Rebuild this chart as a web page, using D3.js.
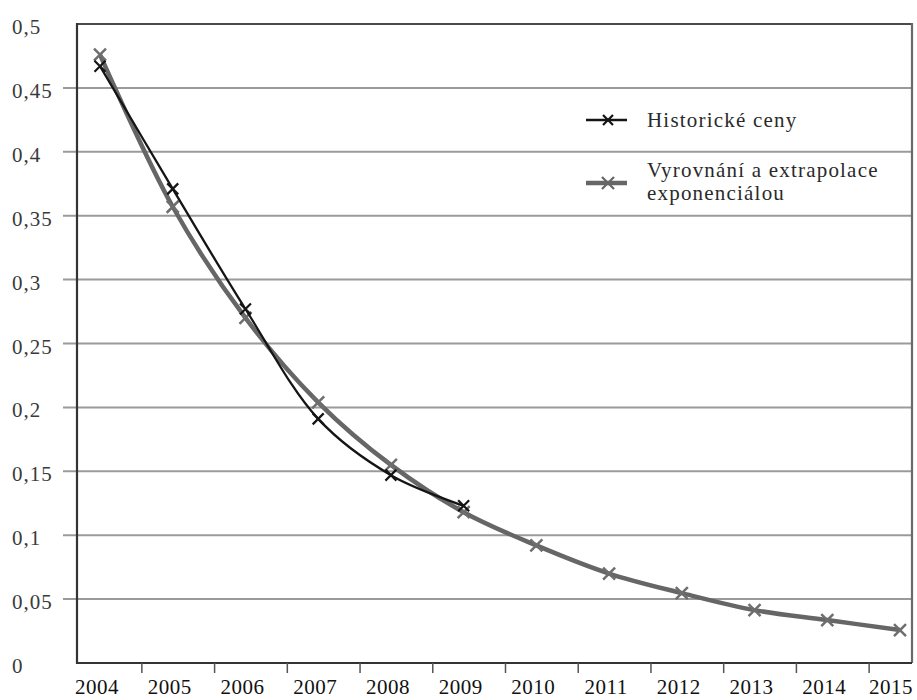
<!DOCTYPE html>
<html><head><meta charset="utf-8">
<script src="https://cdn.jsdelivr.net/npm/d3@7"></script>
<style>body{margin:0;background:#fff}svg{display:block}</style>
</head><body>
<svg id="chart" width="917" height="700"></svg>
<script>
const years = [2004,2005,2006,2007,2008,2009,2010,2011,2012,2013,2014,2015];
const historicalPrices = [0.467,0.371,0.277,0.191,0.147,0.123];
const fittedValues = [0.476,0.357,0.270,0.204,0.155,0.118,0.092,0.070,0.0547,0.0414,0.0336,0.0258];
const yTicks = [0,0.05,0.1,0.15,0.2,0.25,0.3,0.35,0.4,0.45,0.5];
const yTickLabels = ["0","0,05","0,1","0,15","0,2","0,25","0,3","0,35","0,4","0,45","0,5"];
const seriesNames = [["Historické ceny"],["Vyrovnání a extrapolace","exponenciálou"]];

// pick an installed serif face
function pickFont(cands) {
  const ctx = document.createElement("canvas").getContext("2d");
  const probe = "Historické ceny 0,45 WMiw";
  const base = {};
  ["monospace", "sans-serif"].forEach(b => { ctx.font = "40px " + b; base[b] = ctx.measureText(probe).width; });
  for (const f of cands) {
    let ok = false;
    for (const b of ["monospace", "sans-serif"]) {
      ctx.font = `40px "${f}", ${b}`;
      if (Math.abs(ctx.measureText(probe).width - base[b]) > 0.5) ok = true;
    }
    if (ok) return `"${f}", serif`;
  }
  return "serif";
}
const font = pickFont(["Liberation Serif", "Tinos", "Times New Roman", "Times", "Noto Serif", "DejaVu Serif", "FreeSerif"]);

const svg = d3.select("#chart");
const L = 77, R = 912, T = 24, B = 663;
const x = d3.scalePoint().domain(years).range([100, 900]);
const y = d3.scaleLinear().domain([0, 0.5]).range([B, T]);
const step = x.step();

svg.append("g").selectAll("line").data(yTicks.filter(v => v > 0 && v < 0.5)).join("line")
  .attr("x1", 63).attr("x2", R).attr("y1", d => y(d)).attr("y2", d => y(d))
  .attr("stroke", "#9a9a9a").attr("stroke-width", 2);

svg.append("line").attr("x1", L).attr("x2", R).attr("y1", T).attr("y2", T).attr("stroke", "#4a4a4a").attr("stroke-width", 2.2);
svg.append("line").attr("x1", R).attr("x2", R).attr("y1", T - 1).attr("y2", B).attr("stroke", "#6a6a6a").attr("stroke-width", 2.2);
svg.append("line").attr("x1", L).attr("x2", L).attr("y1", T - 1).attr("y2", B + 1).attr("stroke", "#333").attr("stroke-width", 2.2);
svg.append("line").attr("x1", L - 1).attr("x2", R).attr("y1", B).attr("y2", B).attr("stroke", "#333").attr("stroke-width", 2.2);

svg.append("g").selectAll("text").data(yTicks).join("text")
  .attr("x", 12).attr("y", d => y(d) + 10)
  .attr("font-family", font).attr("font-size", 21).attr("letter-spacing", 1)
  .attr("fill", "#3a3a3a")
  .text((d, i) => yTickLabels[i]);

svg.append("g").selectAll("line").data(years.slice(0, -1)).join("line")
  .attr("x1", d => x(d) + step / 2 + 5.5).attr("x2", d => x(d) + step / 2 + 5.5)
  .attr("y1", B).attr("y2", B + 10).attr("stroke", "#555").attr("stroke-width", 1.5);

svg.append("g").selectAll("text").data(years).join("text")
  .attr("x", (d, i) => i === years.length - 1 ? R + 1 : x(d) - 3)
  .attr("y", 694)
  .attr("text-anchor", (d, i) => i === years.length - 1 ? "end" : "middle")
  .attr("font-family", font).attr("font-size", 21).attr("letter-spacing", 0.5)
  .attr("fill", "#111")
  .text(d => d);

const line = d3.line().x((d, i) => x(years[i])).y(d => y(d)).curve(d3.curveCatmullRom.alpha(0.5));
const xMark = s => `M${-s},${-s}L${s},${s}M${-s},${s}L${s},${-s}`;

svg.append("path").datum(fittedValues).attr("d", line)
  .attr("fill", "none").attr("stroke", "#666").attr("stroke-width", 4.5);
svg.append("g").selectAll("path").data(fittedValues).join("path")
  .attr("transform", (d, i) => `translate(${x(years[i])},${y(d)})`)
  .attr("d", xMark(6)).attr("stroke", "#6e6e6e").attr("stroke-width", 2.5).attr("fill", "none");

svg.append("path").datum(historicalPrices).attr("d", line)
  .attr("fill", "none").attr("stroke", "#151515").attr("stroke-width", 2.3);
svg.append("g").selectAll("path").data(historicalPrices).join("path")
  .attr("transform", (d, i) => `translate(${x(years[i])},${y(d)})`)
  .attr("d", xMark(5.5)).attr("stroke", "#151515").attr("stroke-width", 2.2).attr("fill", "none");

const leg = svg.append("g");
const legY = [120, 183];
const legStyles = [{c: "#151515", w: 2.3, m: 5}, {c: "#666", w: 4.5, m: 6}];
seriesNames.forEach((lines, k) => {
  const st = legStyles[k];
  leg.append("line").attr("x1", 586).attr("x2", 627).attr("y1", legY[k]).attr("y2", legY[k])
    .attr("stroke", st.c).attr("stroke-width", st.w);
  leg.append("path").attr("transform", `translate(608,${legY[k]})`).attr("d", xMark(st.m))
    .attr("stroke", st.c).attr("stroke-width", 2.2).attr("fill", "none");
  const t = leg.append("text").attr("font-family", font).attr("font-size", 21)
    .attr("letter-spacing", 1.2).attr("fill", "#2a2a2a");
  const y0 = lines.length === 1 ? 127 : 177;
  lines.forEach((s, j) => t.append("tspan").attr("x", 647).attr("y", y0 + j * 23).text(s));
});
</script>
</body></html>
